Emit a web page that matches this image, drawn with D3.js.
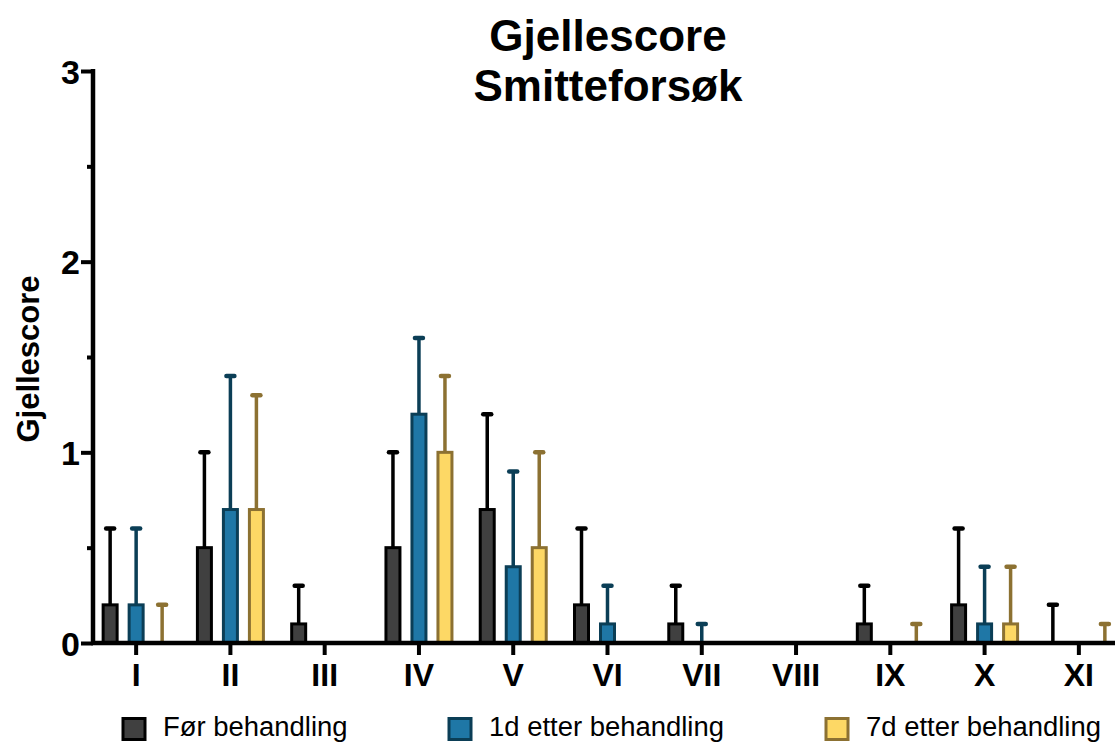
<!DOCTYPE html>
<html><head><meta charset="utf-8">
<script src="https://cdn.jsdelivr.net/npm/d3@7"></script>
<style>body{margin:0;background:#fff}svg{display:block}text{font-family:"Liberation Sans",Arial,sans-serif}</style>
</head><body><svg id="c" width="1115" height="743"></svg>
<script>
const categories = ["I","II","III","IV","V","VI","VII","VIII","IX","X","XI"];
const seriesNames = ["Før behandling","1d etter behandling","7d etter behandling"];
// mean values (null = no mark)
const forMean  = [0.2,0.5,0.1,0.5,0.7,0.2,0.1,null,0.1,0.2,0];
const d1Mean   = [0.2,0.7,0,1.2,0.4,0.1,0,null,null,0.1,null];
const d7Mean   = [0,0.7,0,1.0,0.5,null,null,null,0,0.1,0];
// upper end of error bar
const forUpper = [0.6,1.0,0.3,1.0,1.2,0.6,0.3,null,0.3,0.6,0.2];
const d1Upper  = [0.6,1.4,null,1.6,0.9,0.3,0.1,null,null,0.4,null];
const d7Upper  = [0.2,1.3,null,1.4,1.0,null,null,null,0.1,0.4,0.1];
const yTicks = [0,1,2,3];
const yMinor = [0.5,1.5,2.5];

const fills = ["#404040","#1f77a6","#fdd865"];
const strokes = ["#000000","#0b3e56","#8c7132"];

const svg = d3.select("#c");
const y = d3.scaleLinear().domain([0,3]).range([643,71]);
const x = d3.scaleBand().domain(categories).range([89,1126]);
const off = d3.scaleOrdinal().domain([0,1,2]).range([-26,0,26]);
const bw = 14;

const means=[forMean,d1Mean,d7Mean], uppers=[forUpper,d1Upper,d7Upper];

// error bars
means.forEach((m,s)=>{
  categories.forEach((c,i)=>{
    const u=uppers[s][i]; if(u==null) return;
    const cx=x(c)+x.bandwidth()/2+off(s);
    const base = m[i]==null?0:m[i];
    svg.append("line").attr("x1",cx).attr("x2",cx).attr("y1",y(base)).attr("y2",y(u))
      .attr("stroke",strokes[s]).attr("stroke-width",3.5);
    svg.append("line").attr("x1",cx-4).attr("x2",cx+4).attr("y1",y(u)).attr("y2",y(u))
      .attr("stroke",strokes[s]).attr("stroke-width",4.5).attr("stroke-linecap","round");
  });
});
// bars
means.forEach((m,s)=>{
  categories.forEach((c,i)=>{
    const v=m[i]; if(v==null||v===0) return;
    const cx=x(c)+x.bandwidth()/2+off(s);
    svg.append("rect").attr("x",cx-bw/2).attr("y",y(v)).attr("width",bw).attr("height",y(0)-y(v))
      .attr("fill",fills[s]).attr("stroke",strokes[s]).attr("stroke-width",3);
  });
});

// y axis
const yAxis = d3.axisLeft(y).tickValues(yTicks).tickSize(12).tickFormat(d3.format("d"));
const ga = svg.append("g").attr("transform","translate(93,0)").call(yAxis);
ga.select(".domain").attr("stroke","#000").attr("stroke-width",4.5).attr("d","M0,"+(y(3)-2)+"V"+(y(0)+2));
ga.selectAll(".tick line").attr("stroke-width",4);
ga.selectAll(".tick text").attr("font-size",34).attr("font-weight","bold").attr("x",-13).attr("dy","0.36em");
svg.append("g").attr("transform","translate(93,0)").call(d3.axisLeft(y).tickValues(yMinor).tickSize(6).tickFormat(""))
  .call(g=>{g.select(".domain").remove();g.selectAll("line").attr("stroke-width",4);});

// x axis
const xAxis = d3.axisBottom(x).tickSize(12).tickPadding(8);
const gx = svg.append("g").attr("transform","translate(0,643)").call(xAxis);
gx.select(".domain").attr("stroke","#000").attr("stroke-width",4.5).attr("d","M91,0H1115");
gx.selectAll(".tick line").attr("stroke-width",4);
gx.selectAll(".tick text").attr("font-size",32).attr("font-weight","bold").attr("dy","0.72em");

// titles
svg.append("text").attr("x",608).attr("y",51).attr("text-anchor","middle").attr("font-size",44).attr("font-weight","bold").text("Gjellescore");
svg.append("text").attr("x",608).attr("y",101).attr("text-anchor","middle").attr("font-size",44).attr("font-weight","bold").text("Smitteforsøk");
svg.append("text").attr("transform","translate(39,359) rotate(-90)").attr("text-anchor","middle").attr("font-size",31).attr("font-weight","bold").text("Gjellescore");

// legend
const legX=[123,449,826];
seriesNames.forEach((n,s)=>{
  svg.append("rect").attr("x",legX[s]).attr("y",718.5).attr("width",22).attr("height",21)
    .attr("fill",fills[s]).attr("stroke",strokes[s]).attr("stroke-width",3);
  svg.append("text").attr("transform",`translate(${legX[s]+40},736) scale(0.98,1)`).attr("font-size",28).text(n);
});
</script></body></html>
